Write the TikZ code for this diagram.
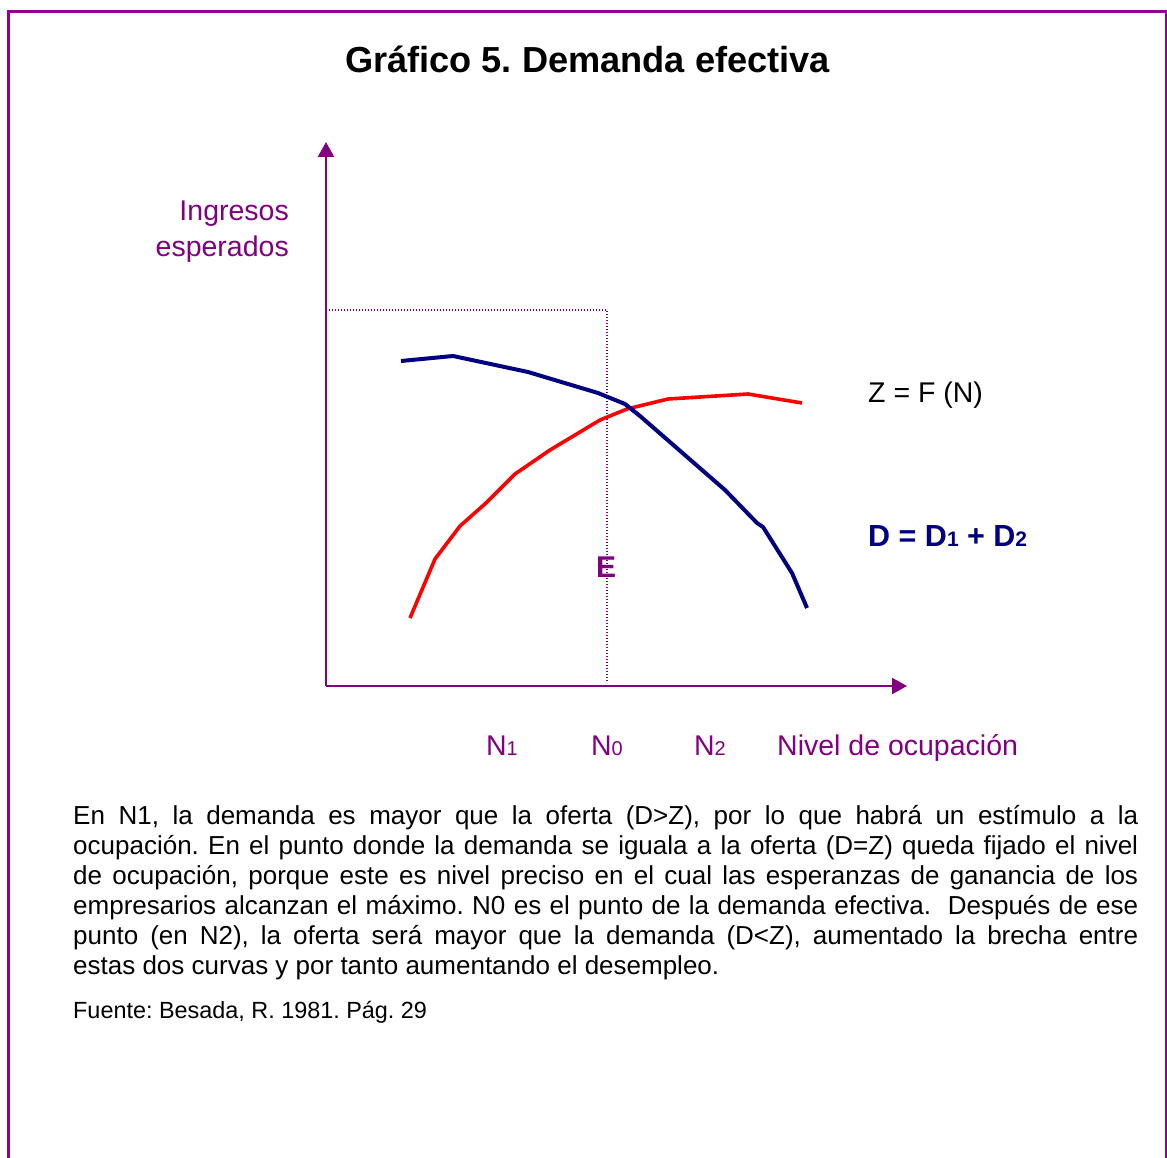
\documentclass[tikz,border=0pt]{standalone}
\usepackage{fontspec}
\setmainfont{Liberation Sans}
\usetikzlibrary{arrows.meta}
\definecolor{purp}{RGB}{128,0,128}
\definecolor{framec}{RGB}{145,0,145}
\definecolor{navy}{RGB}{0,0,128}
\definecolor{redc}{RGB}{255,0,0}
\frenchspacing
\begin{document}
\begin{tikzpicture}[x=1pt,y=-1pt,
  axisline/.style={draw=purp,line width=2.2pt,-{Triangle[length=15pt,width=16pt]}},
  guide/.style={draw=purp,line width=1.1pt,dash pattern=on 1pt off 2pt},
  zcurve/.style={draw=redc,line width=3.6pt,line join=round},
  dcurve/.style={draw=navy,line width=4pt,line join=round},
  plabel/.style={text=purp,inner sep=0pt,font=\fontsize{28.5}{34}\selectfont},
  body/.style={inner sep=0pt,text=black}]
\useasboundingbox (0,0) rectangle (1167,1158);
% frame
\draw[framec,line width=3pt] (8.7,1170) -- (8.7,11.3) -- (1166.5,11.3) -- (1166.5,1170);
% title
\node[body,anchor=base,font=\bfseries\fontsize{36.2}{40}\selectfont] (title) at (587.5,73) {Gráfico 5. Demanda efectiva};
% axes
\coordinate (O) at (326,686);
\coordinate (ytop) at (326,142);
\coordinate (xend) at (907,686);
\draw[axisline] (O) -- (ytop);
\draw[axisline] (O) -- (xend);
% guides
\coordinate (g0) at (329,310);
\coordinate (E0) at (607,310);
\coordinate (E1) at (607,683);
\draw[guide] (g0) -- (E0) -- (E1);
% curves
\draw[zcurve] (410,618) -- (435,559) -- (460,526) -- (486,503) -- (515,474) -- (550,450) -- (600,420) -- (627,409) -- (668,399) -- (748,394) -- (802,403);
\draw[dcurve] (401,361) -- (453,356) -- (528,372) -- (598,393) -- (625,404) -- (640,416) -- (725,490) -- (757,523) -- (763,527) -- (792,573) -- (807,608);
% labels
\node[plabel,anchor=base east] (yl1) at (289,221) {Ingresos};
\node[plabel,anchor=base east] (yl2) at (289,257) {esperados};
\node[plabel,anchor=base,font=\bfseries\fontsize{30}{32}\selectfont] (E) at (606,577) {E};
\node[body,anchor=base west,font=\fontsize{28.5}{34}\selectfont] (zlab) at (868,402) {Z = F (N)};
\node[body,anchor=base west,text=navy,font=\bfseries\fontsize{30.5}{34}\selectfont] (dlab) at (868,546) {D = D{\fontsize{21}{21}\selectfont 1} + D{\fontsize{21}{21}\selectfont 2}};
\node[plabel,anchor=base] (n1) at (502,755) {N{\fontsize{20}{20}\selectfont 1}};
\node[plabel,anchor=base] (n0) at (607,755) {N{\fontsize{20}{20}\selectfont 0}};
\node[plabel,anchor=base] (n2) at (710,755) {N{\fontsize{20}{20}\selectfont 2}};
\node[plabel,anchor=base west] (xl) at (777,755) {Nivel de ocupación};
% paragraph
\node[body,anchor=north west,text width=1065pt,align=justify,font=\fontsize{26}{30}\selectfont] (para) at (73,805) {En N1, la demanda es mayor que la oferta (D>Z), por lo que habrá un estímulo a la\linebreak ocupación. En el punto donde la demanda se iguala a la oferta (D=Z) queda fijado el nivel\linebreak de ocupación, porque este es nivel preciso en el cual las esperanzas de ganancia de los\linebreak empresarios alcanzan el máximo. N0 es el punto de la demanda efectiva.\ \ Después de ese\linebreak punto (en N2), la oferta será mayor que la demanda (D<Z), aumentado la brecha entre\linebreak estas dos curvas y por tanto aumentando el desempleo.};
\node[body,anchor=base west,font=\fontsize{23.4}{27}\selectfont] (src) at (73,1018) {Fuente: Besada, R. 1981. Pág. 29};
\end{tikzpicture}
\end{document}
